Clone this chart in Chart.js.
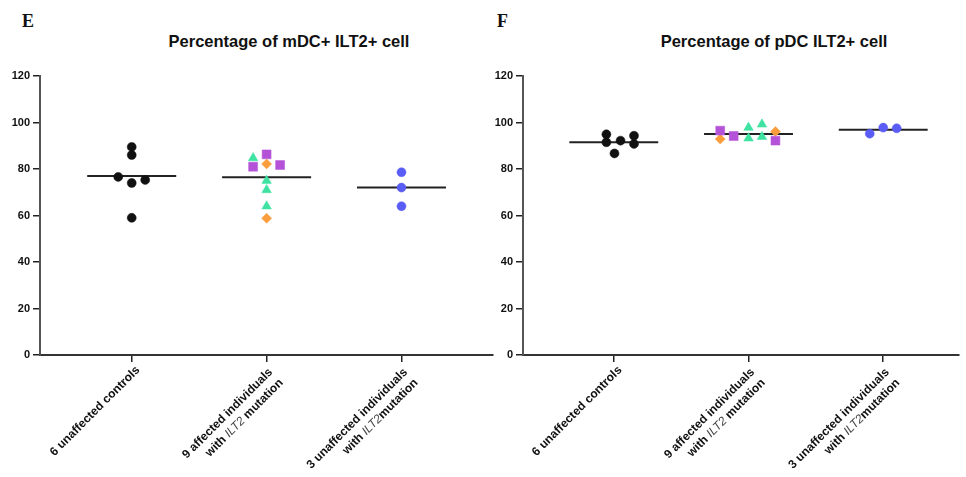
<!DOCTYPE html>
<html>
<head>
<meta charset="utf-8">
<script src="https://cdn.jsdelivr.net/npm/chart.js@4.4.1/dist/chart.umd.min.js"></script>
<style>
    body { margin: 0; background: #fff; width: 966px; height: 477px; position: relative; overflow: hidden; font-family: "Liberation Sans", Arial, sans-serif; }
    .letter { position: absolute; font-family: "Liberation Serif", "Times New Roman", serif; font-weight: bold; font-size: 18px; color: #111; }
    .title { position: absolute; font-weight: bold; font-size: 16.5px; color: #111; white-space: nowrap; transform: translateX(-50%); }
    canvas { position: absolute; top: 0; }
</style>
</head>
<body>
<div class="letter" style="left:22px;top:11px">E</div>
<div class="title" style="left:289px;top:32px">Percentage of mDC+ ILT2+ cell</div>
<div class="letter" style="left:497px;top:11px">F</div>
<div class="title" style="left:774px;top:32px">Percentage of pDC ILT2+ cell</div>
<canvas id="mdcChart" width="500" height="477" style="left:0"></canvas>
<canvas id="pdcChart" width="483" height="477" style="left:483px"></canvas>
<script>
// Group labels (text between _ _ is italic)
const groupLabels = [
    ['6 unaffected controls'],
    ['9 affected individuals', 'with _ILT2_ mutation'],
    ['3 unaffected individuals', 'with _ILT2_mutation']
];
const yTickValues = [0, 20, 40, 60, 80, 100, 120];

// mDC+ ILT2+ (%)
const mdcControls = [89.5, 86, 76.6, 75.3, 74, 59];
const mdcControlsJitter = [0, 0, -0.1, 0.1, 0, 0];
const mdcTriangles = [84.7, 75, 71, 64];
const mdcTrianglesJitter = [-0.1, 0, 0, 0];
const mdcSquares = [86.3, 81, 81.7];
const mdcSquaresJitter = [0, -0.1, 0.1];
const mdcDiamonds = [82.2, 58.8];
const mdcDiamondsJitter = [0, 0];
const mdcCarriers = [78.6, 72, 64];
const mdcCarriersJitter = [0, 0, 0];
const mdcMedians = [77, 76.4, 72];

// pDC ILT2+ (%)
const pdcControls = [94.9, 91.5, 86.7, 92.2, 94.3, 90.8];
const pdcControlsJitter = [-0.055, -0.055, 0.005, 0.05, 0.15, 0.15];
const pdcTriangles = [97.8, 93.2, 99.2, 93.9];
const pdcTrianglesJitter = [0, 0, 0.1, 0.1];
const pdcSquares = [96.5, 94.2, 92.2];
const pdcSquaresJitter = [-0.21, -0.11, 0.2];
const pdcDiamonds = [92.9, 96.1];
const pdcDiamondsJitter = [-0.21, 0.2];
const pdcCarriers = [95.2, 97.8, 97.5];
const pdcCarriersJitter = [-0.1, 0, 0.1];
const pdcMedians = [91.5, 95.1, 96.9];

const BLACK = '#111';
const GREEN = '#3ee3a2';
const PURPLE = '#b553d8';
const ORANGE = '#fa9d3c';
const BLUE = '#5a5cf6';
const medianHalf = 0.33;

function marks(cat, values, jitter, style, color, radius) {
    return {
        type: 'scatter',
        data: values.map((v, i) => ({ x: cat + jitter[i], y: v })),
        pointStyle: style,
        pointRadius: radius,
        backgroundColor: color,
        borderColor: color,
        borderWidth: 0.5,
        order: 1
    };
}

function medianLines(medians) {
    return medians.map((m, i) => ({
        type: 'line',
        data: [{ x: i + 1 - medianHalf, y: m }, { x: i + 1 + medianHalf, y: m }],
        borderColor: '#222',
        borderWidth: 2,
        pointRadius: 0,
        order: 2
    }));
}

// Draw rotated group labels under the x axis, italic parts in a lighter style
const labelPlugin = {
    id: 'groupLabels',
    afterDraw(chart) {
        const ctx = chart.ctx;
        const xs = chart.scales.x;
        const lh = 15;
        groupLabels.forEach((lines, i) => {
            const px = xs.getPixelForValue(i + 1) + 2;
            ctx.save();
            ctx.translate(px, chart.chartArea.bottom + 9);
            ctx.rotate(-Math.PI / 4);
            ctx.textBaseline = 'top';
            ctx.textAlign = 'left';
            lines.forEach((line, j) => {
                const parts = line.split('_');
                const fonts = parts.map((p, k) => k % 2
                    ? 'italic 12px "Liberation Sans", Arial'
                    : 'bold 12px "Liberation Sans", Arial');
                let total = 0;
                const widths = parts.map((p, k) => {
                    ctx.font = fonts[k];
                    const w = ctx.measureText(p).width;
                    total += w;
                    return w;
                });
                let x = -total - (lines.length > 1 ? 3 : 0);
                parts.forEach((p, k) => {
                    ctx.font = fonts[k];
                    ctx.fillStyle = k % 2 ? '#444' : '#111';
                    ctx.fillText(p, x, j * lh);
                    x += widths[k];
                });
            });
            ctx.restore();
        });
    }
};

function makeChart(id, datasets, xMin, xMax, padRight) {
    return new Chart(document.getElementById(id), {
        data: { datasets: datasets },
        options: {
            responsive: false,
            animation: false,
            layout: { padding: { top: 76, right: padRight, bottom: 0, left: 0 } },
            plugins: { legend: { display: false }, tooltip: { enabled: false } },
            scales: {
                x: {
                    type: 'linear',
                    position: 'bottom',
                    min: xMin,
                    max: xMax,
                    afterBuildTicks: (scale) => { scale.ticks = [1, 2, 3].map(v => ({ value: v })); },
                    afterFit: (scale) => { scale.height = 122; },
                    ticks: { display: false },
                    grid: { drawOnChartArea: false, drawTicks: true, tickLength: 7, color: '#222', lineWidth: 1.5 },
                    border: { color: '#333', width: 2 }
                },
                y: {
                    min: 0,
                    max: 120,
                    afterBuildTicks: (scale) => { scale.ticks = yTickValues.map(v => ({ value: v })); },
                    afterFit: (scale) => { scale.width = 40; },
                    ticks: {
                        color: '#111',
                        padding: 3,
                        font: { family: '"Liberation Sans", Arial', size: 11, weight: 'bold' }
                    },
                    grid: { drawOnChartArea: false, drawTicks: true, tickLength: 7, color: '#222', lineWidth: 1.5 },
                    border: { color: '#555', width: 2 }
                }
            }
        },
        plugins: [labelPlugin]
    });
}

makeChart('mdcChart', [
    marks(1, mdcControls, mdcControlsJitter, 'circle', BLACK, 4.5),
    marks(2, mdcTriangles, mdcTrianglesJitter, 'triangle', GREEN, 5.5),
    marks(2, mdcSquares, mdcSquaresJitter, 'rect', PURPLE, 6.3),
    marks(2, mdcDiamonds, mdcDiamondsJitter, 'rectRot', ORANGE, 5),
    marks(3, mdcCarriers, mdcCarriersJitter, 'circle', BLUE, 4.5),
    ...medianLines(mdcMedians)
], 0.32, 3.68, 4);

makeChart('pdcChart', [
    marks(1, pdcControls, pdcControlsJitter, 'circle', BLACK, 4.5),
    marks(2, pdcTriangles, pdcTrianglesJitter, 'triangle', GREEN, 5.5),
    marks(2, pdcSquares, pdcSquaresJitter, 'rect', PURPLE, 6.3),
    marks(2, pdcDiamonds, pdcDiamondsJitter, 'rectRot', ORANGE, 5),
    marks(3, pdcCarriers, pdcCarriersJitter, 'circle', BLUE, 4.5),
    ...medianLines(pdcMedians)
], 0.326, 3.564, 1);
</script>
</body>
</html>
